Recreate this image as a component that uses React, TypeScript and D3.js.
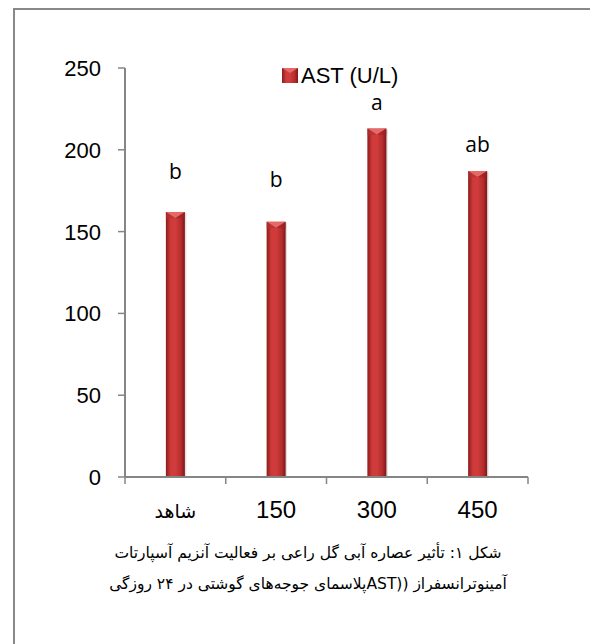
import { useMemo } from 'react';
import * as d3 from 'd3';

// data
const groups = ['شاهد', '150', '300', '450'];
const astValues = [162, 156, 213, 187];
const letters = ['b', 'b', 'a', 'ab'];
const yTicks = [0, 50, 100, 150, 200, 250];
const seriesName = 'AST (U/L)';
const captionLines = [
  'شکل ۱: تأثیر عصاره آبی گل راعی بر فعالیت آنزیم آسپارتات',
  'آمینوترانسفراز ((ASTپلاسمای جوجه‌های گوشتی در ۲۴ روزگی',
];

// layout
const width = 590;
const height = 644;
const margin = { top: 68, right: 62, bottom: 167, left: 125 };
const axisColor = '#868686';
const latin = 'Arial, "Liberation Sans", sans-serif';
const letterGap = [33, 35, 19, 19]; // px between bar top and letter baseline

const App = () => {
  const boundW = width - margin.left - margin.right;
  const boundH = height - margin.top - margin.bottom;

  const xScale = useMemo(() => {
    return d3.scaleBand().domain(groups).range([0, boundW]);
  }, [boundW]);

  const yScale = useMemo(() => {
    return d3.scaleLinear().domain([0, 250]).range([boundH, 0]);
  }, [boundH]);

  const barW = 19;

  const bars = groups.map((g, i) => {
    const cx = (xScale(g) ?? 0) + xScale.bandwidth() / 2;
    const y = yScale(astValues[i]);
    const h = boundH - y;
    const x0 = cx - barW / 2;
    return (
      <g key={g}>
        <rect x={x0 + 1.5} y={y + 1} width={barW} height={h} fill="#000" opacity={0.12} />
        <rect x={x0} y={y} width={barW} height={h} fill="url(#barGrad)" />
        {/* bevelled top */}
        <path d={`M${x0},${y} L${x0 + barW},${y} L${cx},${y + 6} Z`} fill="#e46a6a" />
        <path d={`M${x0},${y} L${cx},${y + 6} L${x0},${y + 7} Z`} fill="#b83030" opacity={0.6} />
        <path d={`M${x0 + barW},${y} L${cx},${y + 6} L${x0 + barW},${y + 7} Z`} fill="#9c2222" opacity={0.6} />
        <text
          x={cx}
          y={y - letterGap[i]}
          textAnchor="middle"
          fontFamily='"Open Sans", sans-serif'
          fontSize={21}
          fill="#000"
        >
          {letters[i]}
        </text>
      </g>
    );
  });

  const yAxis = yTicks.map((t) => (
    <g key={t} transform={`translate(0, ${yScale(t)})`}>
      <line x1={-7} x2={0} y1={0} y2={0} stroke={axisColor} strokeWidth={1.5} />
      <text
        x={-24}
        y={0}
        dy="0.36em"
        textAnchor="end"
        fontFamily={latin}
        fontSize={22}
        fill="#000"
      >
        {t}
      </text>
    </g>
  ));

  const bandEdges = [...groups.map((g) => xScale(g) ?? 0), boundW];

  const xAxis = (
    <g transform={`translate(0, ${boundH})`}>
      <line x1={0} x2={boundW} y1={0} y2={0} stroke={axisColor} strokeWidth={2} />
      {bandEdges.map((e, i) => (
        <line key={i} x1={e} x2={e} y1={0} y2={7} stroke={axisColor} strokeWidth={1.5} />
      ))}
      {groups.map((g) => (
        <text
          key={g}
          x={(xScale(g) ?? 0) + xScale.bandwidth() / 2}
          y={41}
          textAnchor="middle"
          fontFamily={g === 'شاهد' ? '"DejaVu Sans", sans-serif' : latin}
          fontSize={g === 'شاهد' ? 19 : 24}
          fontWeight="normal"
          fill="#000"
        >
          {g}
        </text>
      ))}
    </g>
  );

  return (
    <svg
      width={width}
      height={height}
      style={{ position: 'absolute', left: 0, top: 0, background: '#fff' }}
    >
      <defs>
        <linearGradient id="barGrad" x1="0" x2="1" y1="0" y2="0">
          <stop offset="0%" stopColor="#8c1b1b" />
          <stop offset="25%" stopColor="#cf3a3a" />
          <stop offset="50%" stopColor="#d03c3c" />
          <stop offset="80%" stopColor="#b42c2c" />
          <stop offset="100%" stopColor="#7e1616" />
        </linearGradient>
      </defs>
      <rect x={14} y={9} width={620} height={700} fill="none" stroke="#888" strokeWidth={2} />
      <g transform={`translate(${margin.left}, ${margin.top})`}>
        {bars}
        <line x1={0} x2={0} y1={0} y2={boundH} stroke={axisColor} strokeWidth={2} />
        {yAxis}
        {xAxis}
      </g>
      {/* legend */}
      <g transform="translate(282, 68)">
        <rect x={0} y={0} width={16} height={15} fill="url(#barGrad)" />
        <path d="M0,0 L16,0 L8,5 Z" fill="#e46a6a" />
        <text x={19} y={15} fontFamily={latin} fontSize={22} fill="#000">
          {seriesName}
        </text>
      </g>
      {captionLines.map((line, i) => (
        <text
          key={i}
          x={308}
          y={558 + i * 31}
          textAnchor="middle"
          direction="rtl"
          fontFamily='"DejaVu Sans", sans-serif'
          fontSize={15.5}
          fill="#000"
        >
          {line}
        </text>
      ))}
    </svg>
  );
};

export default App;
